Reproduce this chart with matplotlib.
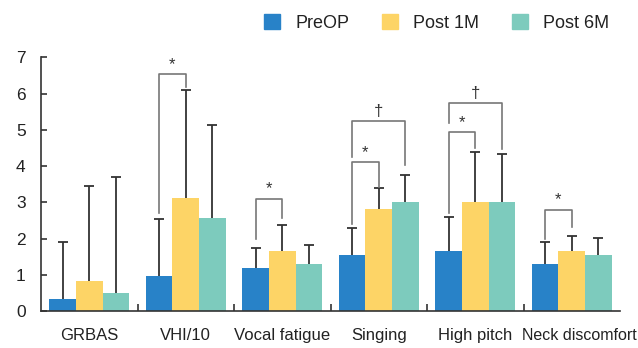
import matplotlib.pyplot as plt
import numpy as np
from matplotlib.patches import Patch

plt.rcParams['font.family'] = ['Liberation Sans', 'DejaVu Sans']

categories = ['GRBAS', 'VHI/10', 'Vocal fatigue', 'Singing', 'High pitch', 'Neck discomfort']
series = ['PreOP', 'Post 1M', 'Post 6M']

pre_mean = [0.32, 0.96, 1.18, 1.54, 1.65, 1.29]
pre_top = [1.91, 2.54, 1.75, 2.29, 2.59, 1.90]
m1_mean = [0.83, 3.11, 1.65, 2.81, 3.00, 1.65]
m1_top = [3.45, 6.10, 2.37, 3.40, 4.38, 2.07]
m6_mean = [0.49, 2.56, 1.29, 3.00, 3.00, 1.54]
m6_top = [3.70, 5.13, 1.83, 3.76, 4.32, 2.01]

# significance brackets: group, left bar, right bar, left foot, top, right foot, mark
brackets = [
    (1, 0, 1, 2.70, 6.53, 6.19, '*'),
    (2, 0, 1, 2.00, 3.10, 2.56, '*'),
    (3, 0, 1, 2.40, 4.10, 3.42, '*'),
    (3, 0, 2, 4.25, 5.24, 4.03, '\u2020'),
    (4, 0, 1, 2.70, 4.94, 4.49, '*'),
    (4, 0, 2, 5.19, 5.73, 4.47, '\u2020'),
    (5, 0, 1, 1.98, 2.80, 2.32, '*'),
]

colors = ['#2882c8', '#fdd466', '#7dcbbd']
w = 0.277
x = np.arange(len(categories))

fig = plt.figure(figsize=(6.38, 3.48), dpi=100)
ax = fig.add_axes([41/638, 1 - 311/348, 579/638, (311 - 57.3)/348])

means = [pre_mean, m1_mean, m6_mean]
tops = [pre_top, m1_top, m6_top]
for i in range(3):
    xs = x + (i - 1) * w
    ax.bar(xs, means[i], w, color=colors[i], zorder=2)
    # one-sided error bars, cap only at the top
    ax.vlines(xs, means[i], tops[i], color='#333333', lw=1.3, zorder=3)
    ax.plot(xs, tops[i], ls='none', marker='_', ms=7, mew=1.3, color='#333333', zorder=3)

for g, a, b, yl, yt, yr, mark in brackets:
    xl = g + (a - 1) * w
    xr = g + (b - 1) * w
    ax.plot([xl, xl, xr, xr], [yl, yt, yt, yr], color='#777777', lw=1.2, zorder=4)
    ax.text((xl + xr) / 2, yt + 0.06, mark, ha='center', va='bottom', fontsize=12, color='#333333')

ax.set_xlim(-0.5, 5.5)
ax.set_ylim(0, 7)
ax.set_xticks(x)
# last label is pushed left of its group centre so it fits at the right edge
ax.set_xticklabels(categories[:-1] + [''], fontsize=12)
ax.annotate(categories[-1], xy=(x[-1] - 0.52, 0), xycoords=('data', 'axes fraction'),
            xytext=(0, -12), textcoords='offset points', ha='left', va='top',
            fontsize=11.5, color='#222222', annotation_clip=False)
ax.set_xticks(np.arange(0.5, 5.0, 1.0), minor=True)
ax.tick_params(axis='x', which='major', length=0, pad=12, colors='#222222')
ax.tick_params(axis='x', which='minor', direction='in', length=5, width=1.2, color='#333333')
ax.set_yticks(range(8))
ax.tick_params(axis='y', direction='in', length=4.5, width=1.2, pad=11, labelsize=12.5,
               color='#333333', labelcolor='#222222')
for s in ['top', 'right']:
    ax.spines[s].set_visible(False)
for s in ['left', 'bottom']:
    ax.spines[s].set_linewidth(1.2)
    ax.spines[s].set_color('#333333')

handles = [Patch(color=c) for c in colors]
fig.legend(handles, series, loc='center', bbox_to_anchor=(436.5/638, 1 - 23/348), ncol=3,
           frameon=False, fontsize=13, handlelength=0.9, handleheight=0.9,
           handletextpad=0.85, columnspacing=1.8, labelcolor='#222222')

fig.savefig('out.png', dpi=100)
